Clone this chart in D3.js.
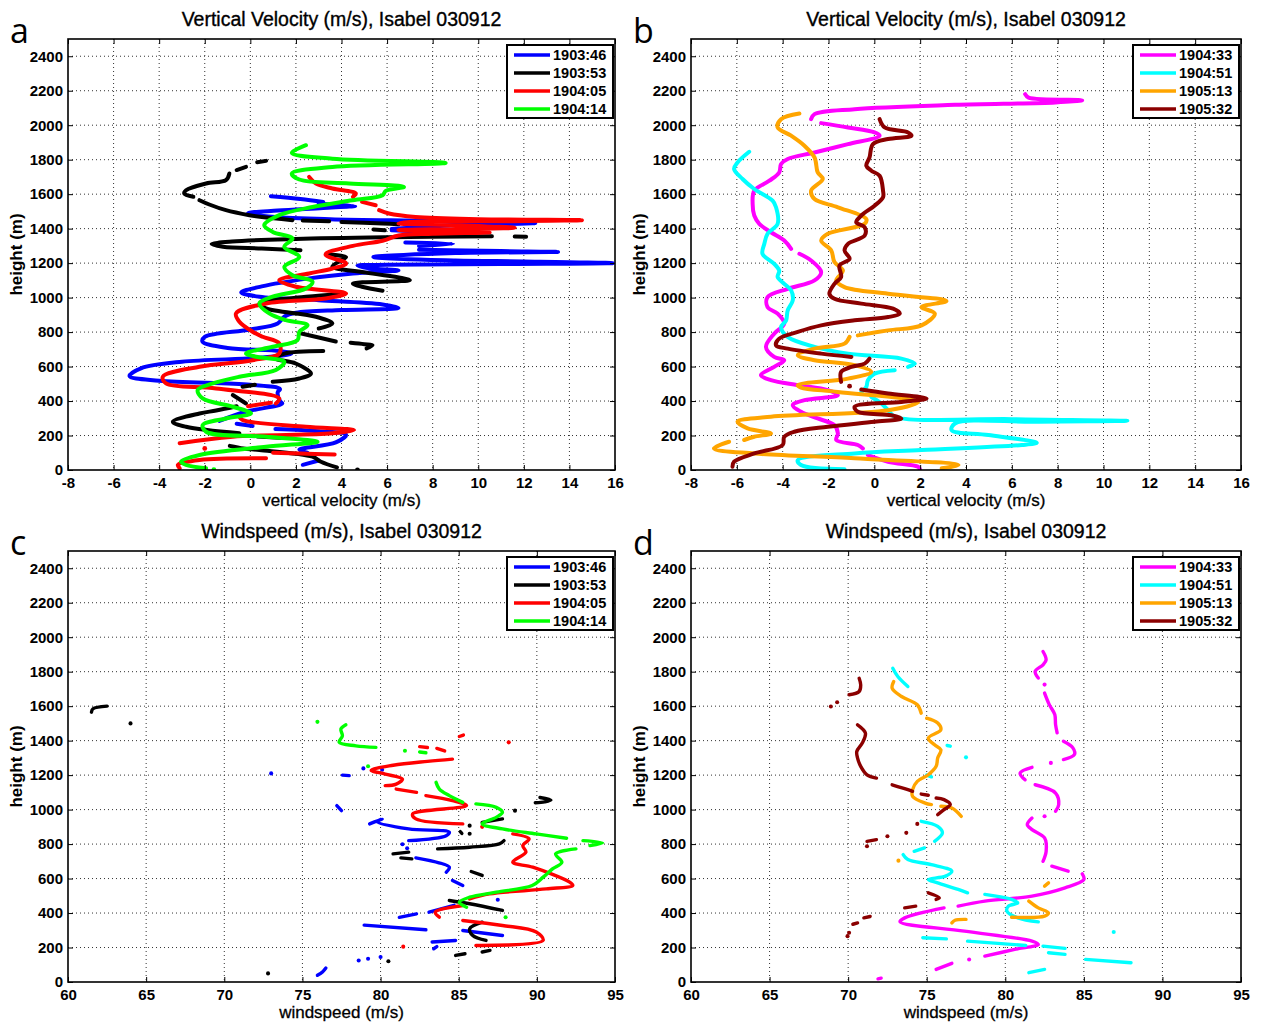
<!DOCTYPE html>
<html><head><meta charset="utf-8">
<script src="https://cdn.jsdelivr.net/npm/d3@7"></script>
<style>body{margin:0;background:#fff}svg{display:block}</style>
</head><body><svg id="chart" width="1261" height="1022"></svg>
<script>
// ---------- labels / ticks ----------
const namesAC = ["1903:46","1903:53","1904:05","1904:14"];
const namesBD = ["1904:33","1904:51","1905:13","1905:32"];
const colorsAC = ["#0000ff","#000000","#ff0000","#00ff00"];
const colorsBD = ["#ff00ff","#00ffff","#ffa500","#8b0000"];
const heightTicks = [0,200,400,600,800,1000,1200,1400,1600,1800,2000,2200,2400];
const velTicks = [-8,-6,-4,-2,0,2,4,6,8,10,12,14,16];
const windTicks = [60,65,70,75,80,85,90,95];
const titleVel = "Vertical Velocity (m/s), Isabel 030912";
const titleWind = "Windspeed (m/s), Isabel 030912";

// ---------- panel a: vertical velocity [w, height] ----------
const velA_190346 = [[0.9,1588],[2.2,1572],[3.2,1555],null,
[3.0,1545],[4.6,1532],[3.2,1520],[1.2,1505],[-0.1,1490],[0.8,1470],[3.5,1455],[8,1445],[12.5,1432],[9,1420],[6.2,1398],null,
[6.2,1390],[8,1380],null,[6.8,1320],[8.9,1312],[7.4,1300],null,
[7.4,1278],[11,1270],[13.5,1265],[9,1258],[5.4,1235],[9,1215],[12,1210],[15.9,1200],[11,1195],[6,1190],[4.7,1186],[5.2,1170],[6.5,1158],[4.5,1140],[2.5,1110],[0.5,1065],[-0.4,1030],[0.4,1005],[3,985],[5.8,960],[6.5,940],[4,928],[2,912],[1.5,890],[1.2,850],[0,815],[-2,772],[-2.1,745],[-1,708],[1.3,690],[1.8,675],[0.5,652],[-3,628],[-4.8,590],[-5.3,545],[-4,518],[0,495],[1.3,470],[1.2,450],[1.3,400],[1.4,386],[-0.2,338],[-1.36,285],null,
[-0.6,268],[0.1,255],null,[1.1,238],[3,225],[4.2,205],[3.75,160],[2.15,118],[2.5,100],null,[2.3,30],[3,55]];
const velA_190353 = [[0.69,1793],[0.3,1785],null,[-0.19,1758],[-0.6,1740],null,[-0.92,1720],[-1.07,1681],[-1.94,1662],[-2.82,1623],[-2.9,1604],[-2.5,1585],null,
[-2.23,1565],[-1.8,1540],[-1.07,1507],[-0.04,1478],[0.69,1464],[1.85,1449],null,[2.3,1447],[3.46,1443],null,[4,1438],[5.8,1430],[6.5,1425],null,[5.4,1395],[5.9,1390],null,
[11.6,1354],[12.1,1353],null,[10.6,1356],[6,1350],[2,1340],[-0.8,1325],[-1.7,1310],[-1.2,1295],[0.5,1285],[2.2,1275],null,
[3.4,1250],[4.2,1235],[3.9,1210],[3.6,1180],[5.07,1145],[7.0,1102],[4.5,1082],[4.9,1063],[5.8,1040],null,[4,1020],[2.44,1005],[0.4,966],[0.69,937],[2.88,889],[3.6,850],[3.0,821],null,
[2.15,795],[3.75,745],null,[4.4,738],[5.0,730],[5.36,724],[5.1,705],null,[3.2,690],[1.5,675],[1.12,647],[1.99,618],[2.66,560],[2.15,531],[0.98,512],null,[0.2,495],[-0.34,483],null,
[-0.77,435],[-0.19,386],null,[-0.6,370],[-1.5,345],[-2.23,328],[-3.4,280],[-2.82,251],[-0.48,213],null,[0.3,195],[1.5,185],null,
[-0.9,140],[-0.3,125],[0.4,116],[2.73,77],[3.1,48],[3.8,15],null,[4.7,0]];
const velA_190405 = [[2.58,1700],[2.88,1662],[3.6,1633],[4.63,1604],[4.5,1584],null,[4.9,1555],[5.5,1536],null,
[5.65,1507],[6.08,1488],[7.25,1468],[10,1455],[14.55,1449],[11,1443],[7,1438],[6.5,1430],[9,1420],[11.6,1405],[9,1398],[6.5,1392],[8,1385],[10.5,1378],[8,1370],[6.5,1360],[5.8,1330],[4.5,1300],[3.3,1250],[4.2,1198],[3.6,1169],[2.58,1140],[1.27,1101],[2.0,1063],[4.2,1024],[3.3,995],[0.69,966],[-0.63,908],[-0.48,860],[0.1,802],[0.54,773],[1.27,734],[1.27,676],[0.1,637],[-2.23,599],[-3.84,541],[-3.7,502],[-1.5,473],[1.27,415],[1.12,386],null,
[0.9,390],[-0.1,370],null,[-0.48,309],[-0.34,290],[2.44,251],[4.55,232],[3.6,213],[-0.77,193],[-3.1,155],null,[-2.0,125],null,
[1.0,100],[2.2,95],[3.7,90],null,[0.69,68],[-2.23,58],[-3.18,29],[-3.1,10]];
const velA_190414 = [[2.44,1884],[1.82,1839],[3.6,1806],[8.57,1781],[3.6,1758],[1.82,1720],[2.15,1685],[4.34,1662],[6.74,1642],[5.94,1619],[5.8,1594],[4.48,1565],[2.73,1526],[1.27,1478],[0.61,1420],[0.98,1381],[1.85,1343],[1.49,1294],[2.15,1236],[1.49,1178],[1.85,1130],[2.73,1092],[2.44,1053],[0.98,1005],[0.4,966],[0.83,908],[1.56,869],[2.51,840],[2.15,802],[2.07,753],[0.98,715],[-0.19,676],[0.25,657],[1.49,628],[1.12,580],[-0.48,541],[-1.65,502],[-2.31,464],[-2.09,415],[-0.77,367],[0.03,328],[-1.07,299],[-2.09,261],[-1.94,222],[0.69,193],[2.95,164],[0.69,135],[-2.23,87],[-3.04,48],[-2.82,29],[-1.94,10],null,[-1.6,2]];

// ---------- panel b ----------
const velB_190433 = [[6.58,2180],[6.73,2160],[9.07,2145],[7.9,2132],[3.52,2118],[-0.86,2093],[-2.61,2064],[-2.76,2035],null,[-2.32,2012],[-1.15,1987],[0.01,1958],[0.23,1939],[-1.15,1890],[-2.61,1842],[-3.78,1804],[-4.07,1775],[-4.15,1726],[-4.58,1678],[-5.24,1620],[-5.31,1543],[-5.24,1476],[-5.02,1428],[-4.51,1379],[-3.93,1331],[-3.63,1283],null,[-3.27,1254],[-2.76,1215],[-2.32,1148],[-2.61,1100],[-3.78,1051],[-4.66,1003],[-4.66,945],[-4.22,907],[-3.93,849],[-4.37,791],[-4.73,714],[-4.37,656],[-3.93,637],[-4.37,598],[-4.95,550],[-4.51,521],[-3.34,492],[-2.03,463],[-1.59,434],[-3.05,405],[-3.56,376],[-3.2,338],[-2.47,299],[-1.74,260],[-1.59,212],[-1.66,174],[-0.72,145],[-0.5,125],null,[-0.28,87],[0.6,48],[1.91,19],[1.99,4]];
const velB_190451 = [[-5.46,1846],[-5.97,1784],[-6.12,1746],[-5.75,1688],[-5.24,1630],[-4.44,1562],[-4.29,1524],[-4.22,1428],[-4.66,1370],[-4.8,1312],[-4.88,1254],[-4.37,1196],[-4.15,1157],[-4.22,1119],[-3.93,1080],[-3.63,1042],[-3.56,984],[-3.78,926],[-3.85,868],[-4.07,829],[-3.78,772],[-2.61,714],[-1.15,675],[1.18,646],[1.77,617],[1.47,598],null,[0.89,579],[0.01,559],[-0.28,521],[-0.35,482],[-0.57,453],null,[-0.13,424],[0.31,386],[0.6,347],[0.89,309],[6,295],[11.04,285],[7,280],[3.52,270],[3.37,231],[4.98,203],[7.09,158],[6.44,145],[2.06,116],[-0.86,96],[-3.34,58],[-3.2,29],[-1.3,4]];
const velB_190513 = [[-3.27,2068],[-4.07,2035],[-4.22,1987],[-3.63,1939],[-3.05,1881],[-2.61,1813],[-2.47,1726],[-2.25,1688],[-2.76,1620],[-2.61,1572],[-1.59,1524],[-0.35,1456],[-0.42,1428],[-2.03,1370],[-2.32,1331],[-1.88,1273],[-1.74,1206],[-1.37,1157],[-1.66,1100],[-1.3,1061],[0.6,1022],[3.15,980],[2.06,945],[2.64,907],[2.06,839],[0.6,810],[-0.72,781],null,[-1.08,772],[-1.3,733],[-2.61,704],[-3.34,666],[-2.61,637],[-0.86,608],[-0.13,569],[-1.15,530],[-3.34,492],[-3.2,478],[-1.59,453],[1.91,395],[0.6,347],[-4.51,309],[-5.97,280],[-5.53,241],[-4.51,212],[-5.24,193],[-5.68,174],null,[-6.34,164],[-7,125],[-5.24,96],[-0.86,68],[3.67,29],[2.94,10]];
const velB_190532 = [[0.23,2035],[0.45,1987],[1.47,1958],[1.62,1939],[0.6,1920],[-0.06,1890],[-0.21,1813],[-0.35,1765],[-0.13,1736],[0.23,1707],[0.38,1620],[0.38,1582],[0.01,1533],[-0.57,1476],[-0.79,1437],[-0.42,1408],[-0.42,1360],[-1.15,1312],[-1.3,1273],[-1.08,1225],[-1.52,1186],[-1.45,1119],[-1.74,1080],[-1.96,1022],[-1.74,993],[-0.57,965],[0.82,936],[1.11,907],[0.6,887],[-0.86,868],[-2.32,839],[-3.34,801],[-4.15,762],[-4.29,723],[-3.78,704],[-2.32,675],[-1.0,656],null,[-0.21,646],[-0.42,617],[-1.0,598],[-1.45,569],[-1.45,511],null,[-1.08,486],null,[-0.57,467],[0.6,444],[2.28,415],[1.18,395],[-0.86,367],[-0.72,338],[0.74,318],[1.18,299],[0.01,280],[-2.03,251],[-3.49,222],[-3.93,193],[-4.0,145],[-5.24,96],[-6.12,48],[-6.19,19]];

// ---------- panel c: windspeed ----------
const windC_190346 = [[73.0,1210],null,[77.56,1200],[77.99,1197],null,[78.9,1239],null,[80.1,1231],null,
[77.2,1023],[77.5,994],null,[79.3,917],[80.1,946],[79.8,930],[81.8,888],[84.4,869],[84.2,849],[81.8,820],null,
[81.4,799],null,[81.7,776],null,[82.26,720],[84.4,666],[84.2,637],null,[84.6,589],[85.26,560],null,
[81.2,375],[82.3,395],null,[83.1,405],[84.7,445],null,[87.5,477],null,[78.95,330],[82.9,303],null,
[85.26,299],[87.8,270],null,[83.3,232],[84.8,241],null,[83.4,193],[83.6,205],null,
[78.6,125],null,[79.2,135],null,[80,145],null,[75.96,39],[76.3,60],[76.5,81]];
const windC_190353 = [[61.5,1565],[61.6,1585],[62.5,1600],null,[64,1500],null,
[90.2,1070],[90.9,1055],[90.5,1045],[89.9,1040],null,[88.6,994],null,[87.8,946],[86.5,926],null,
[85.7,907],null,[85.1,872],[85.2,862],null,[85.7,860],null,[83.65,772],[85.7,782],[87.6,801],[87.9,820],null,
[80.8,743],[81.8,753],null,[81.3,720],[82,714],null,[85.8,641],[86.5,618],null,
[84.4,473],[85.7,454],[87.8,415],null,[86.5,347],[85.7,309],[85.9,270],[86.75,241],null,
[84.8,154],[85.4,164],null,[86.5,174],[87,183],null,[80.5,120],null,[72.8,50]];
const windC_190405 = [[85.04,1424],[85.3,1432],null,[88.2,1390],null,[82.5,1365],[83,1360],null,[83.6,1355],[84.1,1340],null,
[84.6,1293],[83,1280],[80.8,1257],[79.4,1228],[80.3,1206],[81.4,1177],[81,1148],[80.3,1139],null,
[81,1119],[82.3,1100],null,[82.9,1081],[84.6,1052],[85.5,1023],[82.05,975],[82.26,946],[85.26,917],null,[86.5,900],null,
[88.46,859],[89.5,830],[89.1,791],[89.3,753],[88.46,695],[89.74,666],[92.1,579],[92.3,560],[90.6,540],[86.97,511],[85.7,482],null,
[85.26,444],[83.5,405],[83.76,376],null,[85.26,357],[87.8,328],[89.96,290],[90.4,241],[86.1,212],null,[81.45,205]];
const windC_190414 = [[75.96,1509],null,[77.78,1492],[77.46,1467],[77.56,1428],[77.35,1390],[78.42,1370],[79.7,1361],null,
[81.56,1341],null,[82.5,1334],[82.9,1330],null,[79.2,1251],null,
[83.55,1158],[83.76,1119],[84.4,1081],[85.26,1042],null,[86.1,1033],[87.4,1013],[87.8,984],[87.4,955],[86.5,917],[87.8,888],[89.96,859],[91.9,834],null,
[92.95,820],[94.2,807],[93.4,791],null,[92.5,772],[91.2,743],[91.6,695],[91,656],[90.4,608],[89.7,560],[87.4,521],[85.7,492],[85.04,463],[85.5,434],null,[88,376]];

// ---------- panel d ----------
const windD_190433 = [[82.4,1917],[82.6,1869],[82.4,1840],[81.9,1802],[82.1,1763],null,[82.5,1725],null,[82.5,1676],[82.8,1609],[83.15,1551],[83.2,1493],[83.3,1445],null,[83.7,1396],[84.3,1358],[84.4,1319],[83.7,1290],null,[82.9,1271],null,
[81.7,1245],[80.94,1212],[81.26,1173],null,[81.9,1144],[83.2,1096],[83.4,1029],[83.2,990],null,[82.5,961],null,[81.7,951],[81.4,913],[81.7,884],[82.5,836],[82.6,758],[82.4,700],null,[82.96,672],[84.0,643],null,[84.9,627],[85.0,594],[83.8,546],[81.7,498],[78.7,469],[77.0,440],null,[76.1,430],[73.6,372],[73.3,349],[77.4,295],[81.7,237],[82.1,218],[80.6,189],[78.7,150],null,[77.7,131],null,[76.6,108],[75.6,73],null,[71.9,18],[72.1,22]];
const windD_190451 = [[72.84,1820],[73.16,1772],[73.8,1714],null,[76.3,1372],[76.5,1368],null,[77.5,1303],null,[75.0,1200],[75.3,1190],null,
[74.65,932],[75.7,903],[76.0,865],[75.5,816],null,[74.86,778],[74.2,758],null,[73.5,739],[73.8,710],[75.3,681],[76.6,643],[76.2,614],[75.1,594],[75.7,575],[77.0,537],[77.6,517],null,[78.7,508],[80.4,479],[80.8,459],[80.2,440],[80.1,411],[80.8,372],[82.1,349],null,
[86.9,290],null,[74.75,257],[76.25,250],null,[77.6,237],[81.3,212],null,[82.4,208],[83.8,195],null,[82.75,170],[83.8,160],null,[85.1,131],[88.0,112],null,[81.5,54],[82.5,73]];
const windD_190513 = [[72.9,1743],[72.8,1704],[73.4,1656],[74.4,1608],[74.65,1559],null,[75.0,1530],[75.7,1502],[75.9,1463],[75.1,1415],[75.5,1376],[75.9,1347],[75.7,1299],[75.6,1251],[75.1,1202],[74.4,1164],[74.1,1116],[74.1,1077],[74.9,1038],[75.3,1029],null,[75.9,1019],[76.6,1009],[77.2,961],null,
[73.2,704],null,[82.75,575],[82.5,556],null,[81.5,469],[82.1,430],[82.75,401],[82.5,382],[80.4,376],null,[76.6,343],[76.8,358],[77.5,363]];
const windD_190532 = [[68.9,1598],null,[69.3,1623],null,[70.06,1666],[70.7,1685],[70.8,1723],[70.7,1762],null,
[70.6,1492],[71.1,1444],[70.9,1386],[70.55,1337],[70.6,1299],[70.8,1251],[71.2,1202],[71.8,1183],null,
[72.8,1144],[73.8,1116],[74.1,1106],null,[74.65,1090],[75.1,1083],null,[75.6,1067],[76.1,1058],[76.5,1029],[76.1,1000],[75.7,971],null,
[74.4,917],null,[73.7,865],null,[72.5,845],null,[71.2,816],[71.8,826],null,[71.2,787],null,
[75.1,517],[75.8,488],[75.6,479],null,[73.6,430],[74.3,440],null,[71.0,372],[71.4,380],null,[70.6,343],[70.3,335],null,[70.06,286],null,[69.96,266]];

// ---------- panels ----------
const panels = [
 {letter:"a", title:titleVel, xlabel:"vertical velocity (m/s)", xDomain:[-8,16], xTicks:velTicks,
  series:[velA_190346,velA_190353,velA_190405,velA_190414], names:namesAC, colors:colorsAC, lw:4,
  box:{l:68,r:615,t:39,b:470}},
 {letter:"b", title:titleVel, xlabel:"vertical velocity (m/s)", xDomain:[-8,16], xTicks:velTicks,
  series:[velB_190433,velB_190451,velB_190513,velB_190532], names:namesBD, colors:colorsBD, lw:4,
  box:{l:691,r:1241,t:39,b:470}},
 {letter:"c", title:titleWind, xlabel:"windspeed (m/s)", xDomain:[60,95], xTicks:windTicks,
  series:[windC_190346,windC_190353,windC_190405,windC_190414], names:namesAC, colors:colorsAC, lw:3.4,
  box:{l:68,r:615,t:551,b:982}},
 {letter:"d", title:titleWind, xlabel:"windspeed (m/s)", xDomain:[60,95], xTicks:windTicks,
  series:[windD_190433,windD_190451,windD_190513,windD_190532], names:namesBD, colors:colorsBD, lw:3.4,
  box:{l:691,r:1241,t:551,b:982}}
];

const svg = d3.select("#chart");
const FONT = "'Liberation Sans', Arial, Helvetica, sans-serif";

function segments(arr){
  const segs=[]; let cur=[];
  arr.forEach(p=>{ if(p===null){ if(cur.length) segs.push(cur); cur=[]; } else cur.push(p); });
  if(cur.length) segs.push(cur);
  return segs;
}

panels.forEach((p,pi)=>{
  const b=p.box;
  const g=svg.append("g");
  const x=d3.scaleLinear().domain(p.xDomain).range([b.l,b.r]);
  const y=d3.scaleLinear().domain([0,2500]).range([b.b,b.t]);

  // grid
  g.append("g").selectAll("line").data(p.xTicks.slice(1,-1)).join("line")
    .attr("x1",d=>x(d)).attr("x2",d=>x(d)).attr("y1",b.t).attr("y2",b.b)
    .attr("stroke","#333").attr("stroke-width",1).attr("stroke-dasharray","1,3");
  g.append("g").selectAll("line").data(heightTicks.slice(1)).join("line")
    .attr("x1",b.l).attr("x2",b.r).attr("y1",d=>y(d)).attr("y2",d=>y(d))
    .attr("stroke","#333").attr("stroke-width",1).attr("stroke-dasharray","1,3");

  // data
  const cid="clip"+pi;
  svg.append("defs").append("clipPath").attr("id",cid).append("rect")
    .attr("x",b.l).attr("y",b.t).attr("width",b.r-b.l).attr("height",b.b-b.t);
  const dg=g.append("g").attr("clip-path",`url(#${cid})`);
  const line=d3.line().x(d=>x(d[0])).y(d=>y(d[1])).curve(d3.curveCatmullRom.alpha(0.5));
  p.series.forEach((s,si)=>{
    segments(s).forEach(seg=>{
      if(seg.length===1){
        dg.append("circle").attr("cx",x(seg[0][0])).attr("cy",y(seg[0][1])).attr("r",p.lw*0.6).attr("fill",p.colors[si]);
      } else {
        dg.append("path").attr("d",line(seg)).attr("fill","none").attr("stroke",p.colors[si])
          .attr("stroke-width",p.lw).attr("stroke-linecap","round").attr("stroke-linejoin","round");
      }
    });
  });

  // axes
  const ax=g.append("g").attr("transform",`translate(0,${b.b})`)
    .call(d3.axisBottom(x).tickValues(p.xTicks).tickSizeInner(-5).tickSizeOuter(0).tickPadding(7).tickFormat(d=>String(d)));
  const ay=g.append("g").attr("transform",`translate(${b.l},0)`)
    .call(d3.axisLeft(y).tickValues(heightTicks).tickSizeInner(-5).tickSizeOuter(0).tickPadding(5).tickFormat(d=>String(d)));
  g.append("g").attr("transform",`translate(0,${b.t})`)
    .call(d3.axisTop(x).tickValues(p.xTicks).tickSizeInner(-5).tickSizeOuter(0).tickFormat(""));
  g.append("g").attr("transform",`translate(${b.r},0)`)
    .call(d3.axisRight(y).tickValues(heightTicks).tickSizeInner(-5).tickSizeOuter(0).tickFormat(""));
  g.selectAll(".domain").remove();
  g.selectAll(".tick line").attr("stroke","#000").attr("stroke-width",1);
  [ax,ay].forEach(a=>a.selectAll("text").attr("font-family",FONT).attr("font-weight","bold")
      .attr("font-size",15).attr("fill","#000"));
  g.append("rect").attr("x",b.l).attr("y",b.t).attr("width",b.r-b.l).attr("height",b.b-b.t)
    .attr("fill","none").attr("stroke","#000").attr("stroke-width",1.6);

  // labels
  const cx=(b.l+b.r)/2;
  g.append("text").attr("x",cx).attr("y",b.t-13).attr("text-anchor","middle")
    .attr("font-family",FONT).attr("font-size",19.5).attr("fill","#000")
    .attr("stroke","#000").attr("stroke-width",0.35).text(p.title);
  g.append("text").attr("x",cx).attr("y",b.b+36).attr("text-anchor","middle")
    .attr("font-family",FONT).attr("font-size",17).attr("fill","#000")
    .attr("stroke","#000").attr("stroke-width",0.3).text(p.xlabel);
  g.append("text").attr("transform",`translate(${b.l-46},${(b.t+b.b)/2}) rotate(-90)`).attr("text-anchor","middle")
    .attr("font-family",FONT).attr("font-weight","bold").attr("font-size",17).attr("fill","#000").text("height (m)");
  g.append("text").attr("x",b.l-58).attr("y",b.t+4).attr("font-family","'Open Sans', sans-serif")
    .attr("font-size",34).attr("fill","#000").text(p.letter);

  // legend
  const lx=b.r-108, ly=b.t+6, lw=106, lh=73;
  const lg=g.append("g");
  lg.append("rect").attr("x",lx).attr("y",ly).attr("width",lw).attr("height",lh)
    .attr("fill","#fff").attr("stroke","#000").attr("stroke-width",2);
  p.names.forEach((n,i)=>{
    const yy=ly+10+i*18;
    lg.append("line").attr("x1",lx+7).attr("x2",lx+43).attr("y1",yy).attr("y2",yy)
      .attr("stroke",p.colors[i]).attr("stroke-width",3.6);
    lg.append("text").attr("x",lx+46).attr("y",yy+5).attr("font-family",FONT).attr("font-weight","bold")
      .attr("font-size",14.5).attr("fill","#000").text(n);
  });
});
</script></body></html>
